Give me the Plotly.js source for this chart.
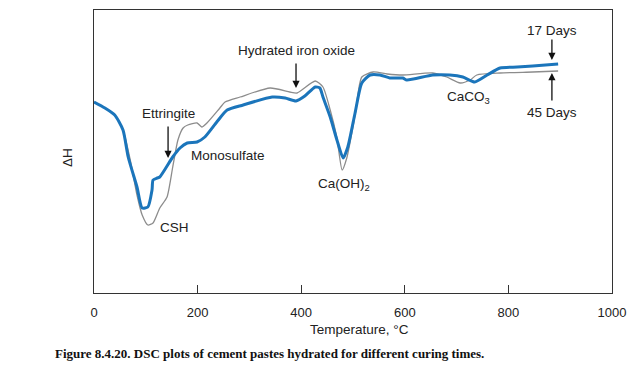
<!DOCTYPE html>
<html>
<head>
<meta charset="utf-8">
<script src="https://cdn.plot.ly/plotly-3.0.1.min.js"></script>
<style>html,body{margin:0;padding:0;background:#fff;}#chart{width:642px;height:373px;}</style>
</head>
<body>
<div id="chart"></div>
<script>
// Temperature (°C) and relative heat-flow (arbitrary units)
var temp17 = [0, 21, 40, 56, 66, 83, 93, 104, 112, 114, 122, 127, 152, 166, 180, 199, 214, 237, 257, 288, 344, 369, 390, 407, 427, 436, 442, 456, 469, 481, 490, 504, 517, 533, 552, 571, 596, 604, 654, 687, 712, 735, 759, 784, 817, 847, 896];
var dh17   = [191, 185, 178, 163, 136, 106, 85, 86, 103, 113, 115, 116, 136, 145, 150, 151, 156, 171, 183, 188, 196, 195, 192, 197, 206, 205, 196, 176, 153, 135, 146, 180, 210, 218, 218, 215, 215, 213, 218, 218, 216, 211, 218, 225, 226, 227, 229];

var temp45 = [0, 21, 40, 56, 70, 83, 93, 104, 114, 127, 141, 152, 162, 172, 181, 199, 208, 218, 243, 253, 282, 340, 378, 392, 427, 442, 456, 469, 479, 488, 504, 517, 539, 566, 596, 654, 681, 707, 726, 739, 784, 847, 896];
var dh45   = [191, 185, 178, 163, 133, 98, 78, 68, 70, 85, 96, 126, 153, 165, 168, 170, 166, 170, 185, 191, 196, 205, 201, 200, 212, 206, 183, 155, 123, 135, 178, 216, 221, 219, 218, 220, 216, 210, 213, 218, 220, 221, 222];

var xTicks = [0, 200, 400, 600, 800, 1000];

var txtFont = {family: 'Liberation Sans, Arial, sans-serif', size: 13.5, color: '#222'};

function label(text, x, y) {
  return {text: text, x: x, y: y, xref: 'x', yref: 'y', showarrow: false, font: txtFont, xanchor: 'center', yanchor: 'middle'};
}
function arrow(x, y, ay) {
  return {text: '', x: x, y: y, xref: 'x', yref: 'y', showarrow: true, ax: 0, ay: ay,
          arrowhead: 2, arrowsize: 1.1, arrowwidth: 1.3, arrowcolor: '#111'};
}

var traces = [
  {x: temp45, y: dh45, mode: 'lines', line: {color: '#8c8c8c', width: 1.3, shape: 'spline', smoothing: 0.6}, hoverinfo: 'skip', name: '45 Days'},
  {x: temp17, y: dh17, mode: 'lines', line: {color: '#1b75bb', width: 3, shape: 'spline', smoothing: 0.6}, hoverinfo: 'skip', name: '17 Days'}
];

var layout = {
  width: 642, height: 373,
  margin: {l: 94, r: 30, t: 10, b: 80},
  paper_bgcolor: '#fff', plot_bgcolor: '#fff',
  showlegend: false,
  xaxis: {
    range: [0, 1000], tickvals: xTicks, ticktext: xTicks.map(String),
    ticks: 'inside', ticklen: 8, tickwidth: 1.3, tickcolor: '#333',
    showline: true, linecolor: '#333', linewidth: 1.3, mirror: true,
    showgrid: false, zeroline: false, ticklabelstandoff: 7,
    tickfont: {family: 'Liberation Sans, Arial, sans-serif', size: 13, color: '#222'}
  },
  yaxis: {
    range: [0, 283], showticklabels: false, ticks: '',
    showline: true, linecolor: '#333', linewidth: 1.3, mirror: true,
    showgrid: false, zeroline: false
  },
  annotations: [
    label('Hydrated iron oxide', 390, 243),
    arrow(390, 205, -26),
    label('17 Days', 884, 263),
    arrow(884, 233, -22),
    label('45 Days', 884, 181),
    arrow(884, 220, 29),
    label('CaCO<sub>3</sub>', 723, 196),
    label('Ettringite', 143, 180),
    arrow(143, 135, -33),
    label('Monosulfate', 259, 138),
    label('CSH', 156, 66),
    label('Ca(OH)<sub>2</sub>', 483, 109),
    {text: 'ΔH', xref: 'paper', yref: 'paper', x: -0.052, y: 0.477, showarrow: false, textangle: -90, font: txtFont, xanchor: 'center', yanchor: 'middle'},
    {text: 'Temperature, °C', xref: 'paper', yref: 'paper', x: (359 - 94) / 518, y: (293 - 329) / 283, showarrow: false, font: txtFont, xanchor: 'center', yanchor: 'middle'},
    {text: '<b>Figure 8.4.20. DSC plots of cement pastes hydrated for different curing times.</b>', xref: 'paper', yref: 'paper', x: (269 - 94) / 518, y: (293 - 353) / 283, showarrow: false,
     font: {family: 'Liberation Serif, Times New Roman, serif', size: 13, color: '#111'}, xanchor: 'center', yanchor: 'middle'}
  ]
};

Plotly.newPlot('chart', traces, layout, {staticPlot: true, displayModeBar: false});
</script>
</body>
</html>
